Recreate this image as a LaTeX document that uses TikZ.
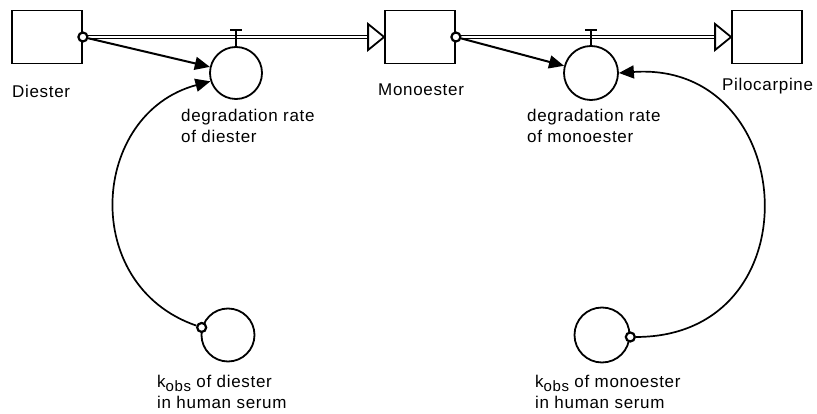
\documentclass[tikz,border=0pt]{standalone}
\usepackage{fontspec}
\setmainfont[LetterSpace=4]{Liberation Sans}
\usetikzlibrary{arrows.meta}

\newcommand{\kobs}{k\raisebox{-4pt}{\fontsize{15}{15}\selectfont obs}}

\begin{document}
\begin{tikzpicture}[x=1pt,y=1pt,
  stock/.style={draw, line width=1.8pt, minimum width=70pt, minimum height=53pt, inner sep=0pt},
  aux/.style={draw, circle, line width=1.8pt, minimum size=52pt, inner sep=0pt},
  pipe/.style={draw, double, double distance=2.2pt, line width=1.3pt},
  outlet/.style={draw, line width=1.8pt, fill=white, line join=miter},
  info/.style={line width=2pt, -{Triangle[length=15pt,width=13pt]}},
  link/.style={line width=1.7pt, -{Triangle[length=15pt,width=13pt]}},
  ring/.style={draw, circle, line width=2.2pt, fill=white, minimum size=9pt, inner sep=0pt},
  valve/.style={line width=1.8pt},
  lbl/.style={font=\fontsize{17}{21}\selectfont, inner sep=0pt, align=left},
]
\useasboundingbox (0,0) rectangle (817,413);

% stocks
\node[stock] (dia)  at (47,376)  {};
\node[stock] (mono) at (420,376) {};
\node[stock] (pilo) at (767,376) {};

% converters
\node[aux] (r1) at (236,340) {};
\node[aux, minimum size=54pt] (r2) at (591,340) {};
\node[aux, minimum size=53pt] (k1) at (228,78) {};
\node[aux, minimum size=55pt] (k2) at (602,78) {};

% flow pipes with open arrowheads
\path[pipe] (dia.east) -- ([xshift=-16pt]mono.west);
\draw[outlet] ([xshift=-16pt,yshift=13pt]mono.west) -- (mono.west) -- ([xshift=-16pt,yshift=-13pt]mono.west) -- cycle;
\path[pipe] (mono.east) -- ([xshift=-16pt]pilo.west);
\draw[outlet] ([xshift=-16pt,yshift=13pt]pilo.west) -- (pilo.west) -- ([xshift=-16pt,yshift=-13pt]pilo.west) -- cycle;

% valves
\coordinate (v1) at (r1.north |- 0,383);
\coordinate (v2) at (r2.north |- 0,383);
\draw[valve] (r1.north) -- (v1);
\draw[line width=2.4pt] ([xshift=-6pt]v1) -- ([xshift=6pt]v1);
\draw[valve] (r2.north) -- (v2);
\draw[line width=2.4pt] ([xshift=-6pt]v2) -- ([xshift=6pt]v2);

% connector rings
\node[ring] (s1) at (dia.east) {};
\node[ring] (s2) at (mono.east) {};
\node[ring] (s3) at (k1.164) {};
\node[ring] (s4) at (k2.-4) {};

% information links
\draw[info] (s1) -- (r1);
\draw[info] (s2) -- (r2);
\draw[link] (s3) to[out=161, in=195, looseness=1.3] (r1.198);
\draw[link] (s4) to[out=0, in=4, looseness=1.75] (r2.east);

% labels
\node[lbl, anchor=base west] (tdia)  at (12,315)  {Diester};
\node[lbl, anchor=base west] (tmono) at (378,317) {Monoester};
\node[lbl, anchor=base west] (tpilo) at (722,322) {Pilocarpine};
\node[lbl, anchor=north west] (tr1) at (181,304) {degradation rate\\of diester};
\node[lbl, anchor=north west] (tr2) at (527,304) {degradation rate\\of monoester};
\node[lbl, anchor=north west] (tk1) at (157,38) {\kobs{} of diester\\in human serum};
\node[lbl, anchor=north west] (tk2) at (535,38) {\kobs{} of monoester\\in human serum};
\end{tikzpicture}
\end{document}
